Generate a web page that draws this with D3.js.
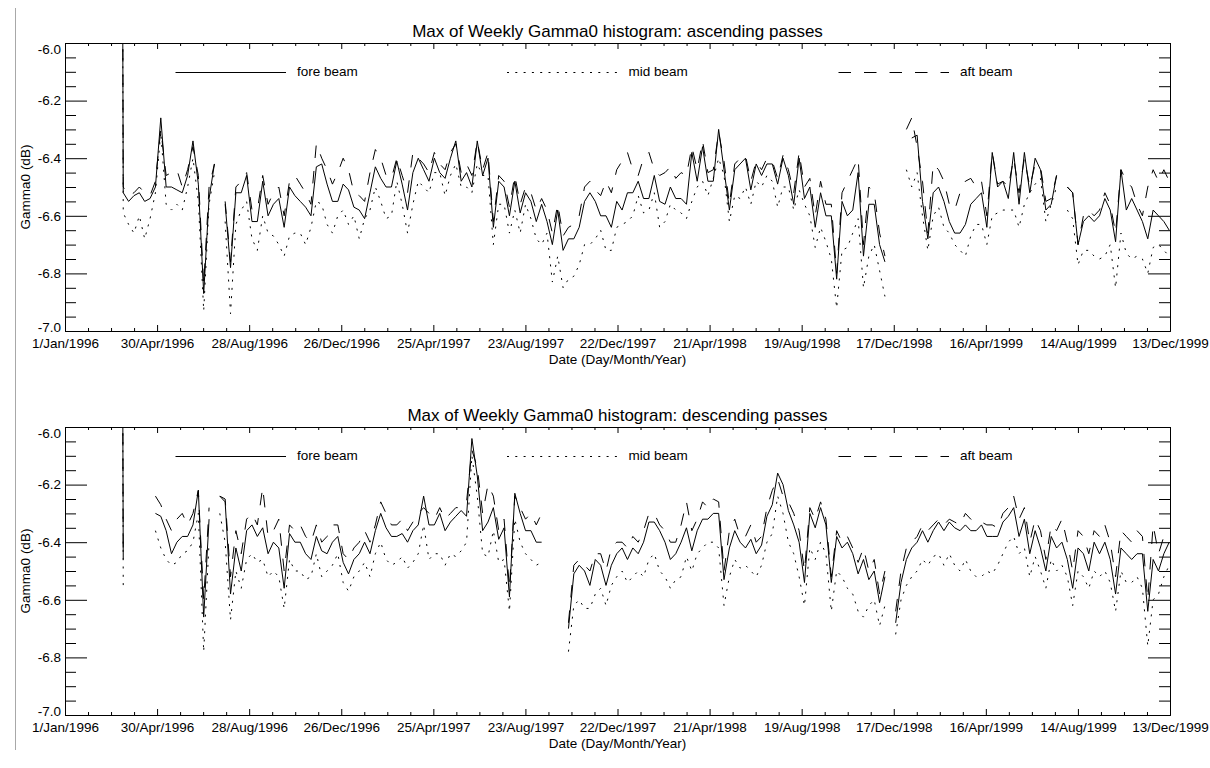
<!DOCTYPE html>
<html>
<head>
<meta charset="utf-8">
<script src="https://cdn.jsdelivr.net/npm/d3@7"></script>
<style>
  body { margin: 0; background: #fff; }
  svg { display: block; }
  text { font-family: "Liberation Sans", Arial, Helvetica, sans-serif; fill: #000; }
</style>
</head>
<body>
<div id="chart"></div>
<script>
"use strict";

// ---- data ----
var xTickLabels = ["1/Jan/1996", "30/Apr/1996", "28/Aug/1996", "26/Dec/1996", "25/Apr/1997",
    "23/Aug/1997", "22/Dec/1997", "21/Apr/1998", "19/Aug/1998", "17/Dec/1998",
    "16/Apr/1999", "14/Aug/1999", "13/Dec/1999"];
var yTicks = [-7.0, -6.8, -6.6, -6.4, -6.2, -6.0];
var beamNames = ["fore beam", "mid beam", "aft beam"];
var panelTitles = ["Max of Weekly Gamma0 histogram: ascending passes",
    "Max of Weekly Gamma0 histogram: descending passes"];

var axisEndDay = 1442;   // days after 1/Jan/1996 at the right edge
var firstDay = 69;       // first weekly sample (days after 1/Jan/1996)
var stepDays = 7;

// weekly maxima (dB); first sample is off scale (spike leaving the top), null = no data
var ascFore = [0.0,
    -6.52,-6.55,-6.53,-6.52,-6.55,-6.54,-6.50,-6.26,-6.50,-6.50,
    -6.51,-6.52,-6.46,-6.34,-6.49,-6.87,-6.54,-6.42,null,-6.56,
    -6.78,-6.52,-6.52,-6.46,-6.62,-6.62,-6.48,-6.60,-6.56,-6.54,
    -6.64,-6.50,-6.53,-6.55,-6.57,-6.60,-6.43,-6.42,-6.49,-6.55,
    -6.55,-6.49,-6.51,-6.57,-6.58,-6.61,-6.52,-6.43,-6.47,-6.50,
    -6.50,-6.41,-6.49,-6.58,-6.45,-6.40,-6.44,-6.48,-6.40,-6.45,
    -6.47,-6.40,-6.34,-6.48,-6.45,-6.50,-6.34,-6.46,-6.40,-6.64,
    -6.48,-6.50,-6.60,-6.48,-6.59,-6.52,-6.55,-6.62,-6.56,-6.62,
    -6.70,-6.58,-6.72,-6.68,-6.68,-6.64,-6.55,-6.52,-6.55,-6.60,
    -6.60,-6.64,-6.55,-6.58,-6.52,-6.52,-6.48,-6.54,-6.54,-6.46,
    -6.55,-6.56,-6.50,-6.54,-6.54,-6.56,-6.38,-6.48,-6.36,-6.48,
    -6.48,-6.30,-6.44,-6.58,-6.44,-6.42,-6.40,-6.51,-6.42,-6.46,
    -6.42,-6.42,-6.49,-6.40,-6.46,-6.56,-6.40,-6.54,-6.50,-6.64,
    -6.52,-6.60,-6.60,-6.82,-6.55,-6.60,-6.58,-6.45,-6.74,-6.56,
    -6.56,-6.70,-6.76,null,null,null,null,-6.33,-6.32,-6.55,
    -6.68,-6.52,-6.50,-6.55,-6.62,-6.66,-6.66,-6.63,-6.56,-6.54,
    -6.52,-6.64,-6.38,-6.50,-6.48,-6.54,-6.38,-6.56,-6.38,-6.52,
    -6.40,-6.44,-6.58,-6.56,-6.46,null,-6.50,-6.52,-6.70,-6.62,
    -6.60,-6.62,-6.60,-6.54,-6.58,-6.69,-6.44,-6.58,-6.54,-6.58,
    -6.62,-6.68,-6.58,-6.60,-6.62,-6.65];

var ascMid = [0.0,
    -6.59,-6.63,-6.66,-6.60,-6.68,-6.61,-6.52,-6.31,-6.56,-6.58,
    -6.56,-6.58,-6.50,-6.40,-6.55,-6.93,-6.56,-6.45,null,-6.62,
    -6.94,-6.63,-6.58,-6.55,-6.68,-6.72,-6.60,-6.66,-6.67,-6.70,
    -6.74,-6.67,-6.66,-6.66,-6.70,-6.64,-6.55,-6.56,-6.63,-6.66,
    -6.60,-6.58,-6.63,-6.60,-6.68,-6.61,-6.58,-6.50,-6.55,-6.61,
    -6.60,-6.48,-6.56,-6.66,-6.56,-6.48,-6.50,-6.52,-6.45,-6.45,
    -6.53,-6.46,-6.42,-6.50,-6.50,-6.52,-6.42,-6.46,-6.46,-6.70,
    -6.56,-6.56,-6.66,-6.58,-6.66,-6.56,-6.61,-6.68,-6.70,-6.66,
    -6.83,-6.74,-6.85,-6.82,-6.81,-6.77,-6.70,-6.70,-6.68,-6.65,
    -6.72,-6.72,-6.64,-6.63,-6.62,-6.60,-6.53,-6.59,-6.58,-6.52,
    -6.64,-6.62,-6.56,-6.58,-6.59,-6.61,-6.55,-6.50,-6.48,-6.53,
    -6.47,-6.40,-6.46,-6.62,-6.53,-6.54,-6.50,-6.56,-6.48,-6.50,
    -6.46,-6.48,-6.57,-6.50,-6.50,-6.58,-6.51,-6.56,-6.60,-6.71,
    -6.64,-6.69,-6.75,-6.92,-6.72,-6.71,-6.66,-6.61,-6.85,-6.74,
    -6.70,-6.79,-6.88,null,null,null,-6.44,-6.50,-6.45,-6.60,
    -6.72,-6.60,-6.57,-6.64,-6.66,-6.70,-6.72,-6.74,-6.67,-6.63,
    -6.63,-6.70,-6.60,-6.59,-6.58,-6.58,-6.58,-6.64,-6.56,-6.52,
    -6.49,-6.47,-6.62,-6.56,-6.50,null,-6.58,-6.61,-6.77,-6.72,
    -6.72,-6.74,-6.75,-6.74,-6.70,-6.85,-6.66,-6.73,-6.75,-6.74,
    -6.75,-6.80,-6.71,-6.70,-6.72,-6.74];

var ascAft = [0.0,
    -6.50,-6.53,-6.52,-6.50,-6.52,-6.53,-6.48,-6.30,-6.46,-6.45,
    -6.44,-6.50,-6.44,-6.36,-6.46,-6.84,-6.50,-6.42,null,-6.55,
    -6.76,-6.50,-6.48,-6.45,-6.58,-6.58,-6.46,-6.56,-6.52,-6.50,
    -6.60,-6.48,-6.46,-6.49,-6.52,-6.56,-6.35,-6.40,-6.44,-6.49,
    -6.45,-6.40,-6.44,-6.52,-6.53,-6.55,-6.45,-6.37,-6.40,-6.46,
    -6.47,-6.40,-6.46,-6.52,-6.38,-6.40,-6.42,-6.45,-6.38,-6.42,
    -6.44,-6.38,-6.35,-6.45,-6.42,-6.46,-6.34,-6.44,-6.38,-6.62,
    -6.46,-6.48,-6.57,-6.46,-6.56,-6.50,-6.52,-6.58,-6.54,-6.58,
    -6.66,-6.56,-6.67,-6.64,-6.63,-6.60,-6.50,-6.48,-6.51,-6.53,
    -6.48,-6.52,-6.44,-6.41,-6.38,-6.44,-6.46,-6.40,-6.38,-6.44,
    -6.46,-6.45,-6.43,-6.47,-6.45,-6.46,-6.36,-6.44,-6.34,-6.45,
    -6.44,-6.31,-6.41,-6.56,-6.42,-6.40,-6.39,-6.48,-6.41,-6.44,
    -6.40,-6.41,-6.47,-6.39,-6.44,-6.52,-6.38,-6.50,-6.47,-6.60,
    -6.48,-6.56,-6.56,-6.80,-6.52,-6.48,-6.44,-6.40,-6.70,-6.50,
    -6.52,-6.66,-6.74,null,null,null,-6.30,-6.26,-6.36,-6.48,
    -6.66,-6.42,-6.44,-6.48,-6.56,-6.58,-6.52,-6.48,-6.47,-6.50,
    -6.48,-6.60,-6.38,-6.49,-6.48,-6.50,-6.40,-6.52,-6.40,-6.50,
    -6.42,-6.43,-6.55,-6.54,-6.46,null,-6.50,-6.52,-6.70,-6.60,
    -6.58,-6.60,-6.58,-6.52,-6.56,-6.66,-6.44,-6.48,-6.50,-6.56,
    -6.60,-6.50,-6.44,-6.48,-6.44,-6.48];

var descFore = [0.0,
    -6.46,null,null,null,null,null,-6.30,-6.31,-6.36,-6.44,
    -6.40,-6.38,-6.38,-6.34,-6.22,-6.66,-6.32,null,-6.24,-6.26,
    -6.58,-6.42,-6.50,-6.36,-6.34,-6.38,-6.35,-6.44,-6.40,-6.42,
    -6.56,-6.37,-6.40,-6.40,-6.44,-6.46,-6.38,-6.43,-6.44,-6.40,
    -6.38,-6.47,-6.51,-6.46,-6.44,-6.40,-6.44,-6.36,-6.30,-6.35,
    -6.38,-6.38,-6.37,-6.40,-6.36,-6.34,-6.24,-6.34,-6.34,-6.30,
    -6.36,-6.33,-6.31,-6.29,-6.31,-6.04,-6.17,-6.36,-6.33,-6.28,
    -6.39,-6.35,-6.59,-6.23,-6.30,-6.36,-6.36,-6.40,-6.40,null,
    null,null,null,-6.70,-6.51,-6.48,-6.50,-6.55,-6.46,-6.48,
    -6.55,-6.48,-6.44,-6.42,-6.46,-6.42,-6.44,-6.40,-6.33,-6.33,
    -6.36,-6.40,-6.46,-6.44,-6.40,-6.35,-6.43,-6.36,-6.32,-6.32,
    -6.30,-6.30,-6.53,-6.42,-6.36,-6.40,-6.42,-6.39,-6.44,-6.41,
    -6.31,-6.27,-6.16,-6.20,-6.29,-6.34,-6.40,-6.54,-6.30,-6.35,
    -6.28,-6.34,-6.54,-6.38,-6.42,-6.40,-6.44,-6.51,-6.46,-6.53,
    -6.50,-6.61,-6.52,null,-6.68,-6.54,-6.46,-6.42,-6.40,-6.36,
    -6.40,-6.36,-6.33,-6.36,-6.33,-6.35,-6.36,-6.34,-6.36,-6.36,
    -6.34,-6.38,-6.38,-6.38,-6.33,-6.31,-6.28,-6.38,-6.32,-6.44,
    -6.36,-6.42,-6.50,-6.38,-6.42,-6.40,-6.46,-6.56,-6.42,-6.44,
    -6.50,-6.40,-6.44,-6.40,-6.46,-6.58,-6.42,-6.44,-6.46,-6.44,
    -6.44,-6.64,-6.46,-6.50,-6.44,-6.40];

var descMid = [0.0,
    -6.55,null,null,null,null,null,-6.36,-6.42,-6.46,-6.48,
    -6.47,-6.44,-6.43,-6.40,-6.30,-6.78,-6.40,null,-6.30,-6.40,
    -6.67,-6.50,-6.56,-6.46,-6.44,-6.47,-6.46,-6.52,-6.50,-6.52,
    -6.63,-6.46,-6.50,-6.50,-6.53,-6.52,-6.44,-6.52,-6.50,-6.48,
    -6.44,-6.54,-6.57,-6.52,-6.50,-6.47,-6.52,-6.44,-6.40,-6.46,
    -6.48,-6.47,-6.45,-6.49,-6.47,-6.44,-6.34,-6.46,-6.44,-6.44,
    -6.48,-6.44,-6.45,-6.43,-6.40,-6.10,-6.24,-6.44,-6.45,-6.36,
    -6.47,-6.46,-6.64,-6.32,-6.40,-6.44,-6.46,-6.48,-6.47,null,
    null,null,null,-6.78,-6.62,-6.60,-6.63,-6.63,-6.58,-6.56,
    -6.62,-6.55,-6.52,-6.50,-6.54,-6.52,-6.50,-6.52,-6.46,-6.44,
    -6.50,-6.52,-6.56,-6.53,-6.52,-6.45,-6.50,-6.44,-6.42,-6.40,
    -6.40,-6.42,-6.62,-6.52,-6.46,-6.49,-6.48,-6.50,-6.52,-6.48,
    -6.40,-6.37,-6.24,-6.30,-6.40,-6.44,-6.52,-6.62,-6.42,-6.46,
    -6.40,-6.44,-6.64,-6.50,-6.52,-6.56,-6.58,-6.64,-6.66,-6.62,
    -6.60,-6.69,-6.62,null,-6.72,-6.60,-6.55,-6.52,-6.50,-6.46,
    -6.48,-6.45,-6.44,-6.48,-6.44,-6.48,-6.50,-6.46,-6.50,-6.52,
    -6.52,-6.50,-6.51,-6.48,-6.44,-6.40,-6.38,-6.44,-6.42,-6.52,
    -6.45,-6.50,-6.56,-6.46,-6.50,-6.48,-6.52,-6.62,-6.50,-6.52,
    -6.56,-6.50,-6.52,-6.50,-6.54,-6.64,-6.50,-6.54,-6.54,-6.52,
    -6.56,-6.76,-6.60,-6.58,-6.52,-6.48];

var descAft = [0.0,
    -6.46,null,null,null,null,null,-6.24,-6.27,-6.32,-6.36,
    -6.32,-6.30,-6.34,-6.30,-6.22,-6.60,-6.28,null,-6.24,-6.25,
    -6.52,-6.36,-6.44,-6.32,-6.30,-6.34,-6.21,-6.38,-6.36,-6.32,
    -6.50,-6.34,-6.36,-6.34,-6.38,-6.40,-6.34,-6.40,-6.38,-6.34,
    -6.34,-6.44,-6.46,-6.42,-6.40,-6.36,-6.40,-6.34,-6.26,-6.30,
    -6.34,-6.34,-6.32,-6.36,-6.33,-6.30,-6.28,-6.30,-6.32,-6.28,
    -6.32,-6.30,-6.28,-6.28,-6.26,-6.08,-6.14,-6.30,-6.20,-6.24,
    -6.36,-6.32,-6.56,-6.24,-6.28,-6.32,-6.30,-6.34,-6.30,null,
    null,null,null,-6.68,-6.48,-6.46,-6.48,-6.50,-6.44,-6.44,
    -6.50,-6.42,-6.40,-6.40,-6.42,-6.38,-6.40,-6.36,-6.30,-6.30,
    -6.34,-6.36,-6.40,-6.40,-6.34,-6.26,-6.36,-6.32,-6.26,-6.28,
    -6.25,-6.26,-6.50,-6.36,-6.32,-6.38,-6.38,-6.34,-6.40,-6.38,
    -6.28,-6.22,-6.18,-6.24,-6.26,-6.30,-6.36,-6.50,-6.28,-6.32,
    -6.26,-6.32,-6.52,-6.36,-6.40,-6.38,-6.42,-6.47,-6.42,-6.50,
    -6.46,-6.58,-6.50,null,-6.64,-6.50,-6.42,-6.40,-6.38,-6.34,
    -6.36,-6.34,-6.32,-6.34,-6.32,-6.33,-6.34,-6.30,-6.32,-6.33,
    -6.33,-6.34,-6.34,-6.35,-6.30,-6.28,-6.24,-6.32,-6.28,-6.40,
    -6.32,-6.36,-6.46,-6.34,-6.36,-6.32,-6.40,-6.50,-6.36,-6.38,
    -6.44,-6.36,-6.38,-6.34,-6.40,-6.52,-6.36,-6.38,-6.40,-6.36,
    -6.38,-6.60,-6.34,-6.44,-6.38,-6.36];

var panels = [
    { title: panelTitles[0], series: [ascFore, ascMid, ascAft] },
    { title: panelTitles[1], series: [descFore, descMid, descAft] }
];

// ---- layout ----
var width = 1210, height = 768;
var plotLeft = 65, plotRight = 1170, plotHeight = 288;
var panelTops = [43, 427];
var dashes = [null, "2,6.3", "12.5,13"];
var font = 13.5;

var svg = d3.select("#chart")
    .append("svg")
    .attr("width", width)
    .attr("height", height);

svg.append("rect").attr("width", width).attr("height", height).attr("fill", "#fff");

// thin grey border line on the left of the page
svg.append("line")
    .attr("x1", 15.5).attr("x2", 15.5)
    .attr("y1", 8).attr("y2", 750)
    .attr("stroke", "#a8a8a8")
    .attr("stroke-width", 1);

var x = d3.scaleLinear().domain([0, axisEndDay]).range([plotLeft, plotRight]);
var legendX = d3.scaleLinear().domain([0, 1]).range([plotLeft, plotRight]);

var majorX = d3.range(13).map(k => k * axisEndDay / 12);
var minorX = d3.range(49).map(k => k * axisEndDay / 48).filter((d, k) => k % 4 !== 0);
var minorY = d3.range(21).map(k => -7 + k * 0.05).filter((d, k) => k % 4 !== 0);

function styleAxis(g) {
    g.attr("font-size", null).attr("font-family", null);
    g.selectAll("text").style("font-size", font + "px");
    g.selectAll("line, path").attr("stroke", "#000");
}

panels.forEach(function (panel, p) {
    var top = panelTops[p];
    var bottom = top + plotHeight;
    var y = d3.scaleLinear().domain([-7, -6]).range([bottom, top]);

    var g = svg.append("g");

    // clip area
    var clipId = "clip" + p;
    svg.append("clipPath").attr("id", clipId)
        .append("rect")
        .attr("x", plotLeft).attr("y", top)
        .attr("width", plotRight - plotLeft).attr("height", plotHeight);

    // series
    var line = d3.line()
        .defined(d => d.value !== null)
        .x(d => x(d.day))
        .y(d => y(d.value));

    panel.series.forEach(function (values, s) {
        var data = values.map((v, k) => ({ day: firstDay + k * stepDays, value: v }));
        g.append("path")
            .datum(data)
            .attr("clip-path", `url(#${clipId})`)
            .attr("fill", "none")
            .attr("stroke", "#000")
            .attr("stroke-width", 1)
            .attr("stroke-dasharray", dashes[s])
            .attr("d", line);
    });

    // axes: bottom (labelled), top, left (labelled), right; ticks point inwards
    g.append("g")
        .attr("transform", `translate(0,${bottom})`)
        .call(d3.axisBottom(x).tickValues(majorX).tickSize(-6).tickSizeOuter(0)
            .tickPadding(7).tickFormat((d, k) => xTickLabels[k]))
        .call(styleAxis);
    g.append("g")
        .attr("transform", `translate(0,${bottom})`)
        .call(d3.axisBottom(x).tickValues(minorX).tickSize(-3).tickSizeOuter(0).tickFormat(""))
        .call(styleAxis);
    g.append("g")
        .attr("transform", `translate(0,${top})`)
        .call(d3.axisTop(x).tickValues(majorX).tickSize(-6).tickSizeOuter(0).tickFormat(""))
        .call(styleAxis);
    g.append("g")
        .attr("transform", `translate(0,${top})`)
        .call(d3.axisTop(x).tickValues(minorX).tickSize(-3).tickSizeOuter(0).tickFormat(""))
        .call(styleAxis);

    // end labels sit inside the axis span, as in the original plot
    g.append("g")
        .attr("transform", `translate(${plotLeft},0)`)
        .call(d3.axisLeft(y).tickValues(yTicks).tickSize(-22).tickSizeOuter(0)
            .tickPadding(4).tickFormat(d => d.toFixed(1)))
        .call(styleAxis)
        .selectAll(".tick text")
        .attr("transform", d => d === -6 ? "translate(0,6.5)" : d === -7 ? "translate(0,-3.5)" : null);
    g.append("g")
        .attr("transform", `translate(${plotLeft},0)`)
        .call(d3.axisLeft(y).tickValues(minorY).tickSize(-11).tickSizeOuter(0).tickFormat(""))
        .call(styleAxis);
    g.append("g")
        .attr("transform", `translate(${plotRight},0)`)
        .call(d3.axisRight(y).tickValues(yTicks).tickSize(-22).tickSizeOuter(0).tickFormat(""))
        .call(styleAxis);
    g.append("g")
        .attr("transform", `translate(${plotRight},0)`)
        .call(d3.axisRight(y).tickValues(minorY).tickSize(-11).tickSizeOuter(0).tickFormat(""))
        .call(styleAxis);

    // title
    g.append("text")
        .attr("x", (plotLeft + plotRight) / 2)
        .attr("y", top - 6.5)
        .attr("text-anchor", "middle")
        .style("font-size", "17px")
        .text(panel.title);

    // axis titles
    g.append("text")
        .attr("x", (plotLeft + plotRight) / 2)
        .attr("y", bottom + 32.5)
        .attr("text-anchor", "middle")
        .style("font-size", font + "px")
        .text("Date (Day/Month/Year)");

    g.append("text")
        .attr("transform", `translate(30,${(top + bottom) / 2}) rotate(-90)`)
        .attr("text-anchor", "middle")
        .style("font-size", font + "px")
        .text("Gamma0 (dB)");

    // legend
    var legendY = top + 29;
    beamNames.forEach(function (name, s) {
        var x0 = legendX(0.1 + 0.3 * s);
        var x1 = legendX(0.2 + 0.3 * s);
        g.append("line")
            .attr("x1", x0).attr("x2", x1)
            .attr("y1", legendY + 0.5).attr("y2", legendY + 0.5)
            .attr("stroke", "#000")
            .attr("stroke-width", 1)
            .attr("stroke-dasharray", dashes[s]);
        g.append("text")
            .attr("x", x1 + 11)
            .attr("y", legendY + 4)
            .style("font-size", font + "px")
            .text(name);
    });
});
</script>
</body>
</html>
